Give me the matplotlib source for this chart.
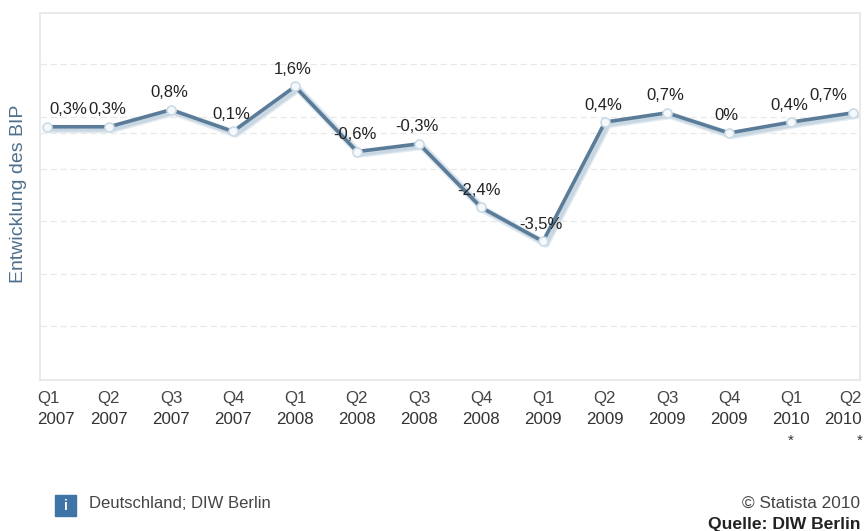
import matplotlib
matplotlib.use('Agg')
import matplotlib.pyplot as plt
from matplotlib.patches import Rectangle

W, H = 864, 531

quarters = ['Q1', 'Q2', 'Q3', 'Q4', 'Q1', 'Q2', 'Q3', 'Q4', 'Q1', 'Q2', 'Q3', 'Q4', 'Q1', 'Q2']
years = ['2007', '2007', '2007', '2007', '2008', '2008', '2008', '2008', '2009', '2009', '2009', '2009', '2010*', '2010*']
values = [0.2, 0.2, 0.75, 0.05, 1.5, -0.6, -0.35, -2.4, -3.5, 0.35, 0.65, 0, 0.35, 0.65]
labels = ['0,3%', '0,3%', '0,8%', '0,1%', '1,6%', '-0,6%', '-0,3%', '-2,4%', '-3,5%', '0,4%', '0,7%', '0%', '0,4%', '0,7%']
grid_values = [2.23, 0.52, 0, -1.16, -2.84, -4.55, -6.23]

plt.rcParams['font.family'] = ['Liberation Sans', 'DejaVu Sans']

fig = plt.figure(figsize=(W/100, H/100), dpi=100)
ax = fig.add_axes([40/W, 1 - 380/H, 820/W, 367/H])

x = list(range(len(values)))
ax.set_xlim(-7/62, 13 + 7/62)
ax.set_ylim(-7.97, 3.87)

# light dashed grid, no tick labels on the y axis
ax.set_yticks(grid_values)
ax.set_yticklabels([])
ax.grid(axis='y', color='#e8e8e8', linestyle=(0, (5, 3)), linewidth=0.9)
ax.set_axisbelow(True)
ax.tick_params(length=0)
for s in ax.spines.values():
    s.set_color('#e6e6e6')
    s.set_linewidth(1.2)

# soft shadow under the line
sx = [i + 3/62 for i in x]
sy = [v - 0.08 for v in values]
ax.plot(sx, sy, color='#e3ebf2', lw=5.5, solid_joinstyle='round', zorder=2)
ax.plot(sx, sy, color='#c9d7e3', lw=3.5, solid_joinstyle='round', zorder=2)
ax.plot(x, values, color='#5b7c99', lw=2.6, solid_joinstyle='round', zorder=3,
        marker='o', ms=6.5, mfc='#f6f9fb', mec='#cbdbe6', mew=1.2)

for i, (v, t) in enumerate(zip(values, labels)):
    ha = 'center'
    dx = -1.5
    if i == 0:
        ha, dx = 'left', 2
    if i == len(values) - 1:
        ha, dx = 'right', -4
    ax.annotate(t, (i, v), xytext=(dx, 9), textcoords='offset points', ha=ha, va='baseline',
                fontsize=12, color='#222222', zorder=4, annotation_clip=False)

# x labels, first and last are pulled inside the figure
ax.set_xticks([])
for i, (q, y) in enumerate(zip(quarters, years)):
    px = 47 + (853 - 47) * i / 13
    ha = 'center'
    if i == 0:
        px, ha = 37, 'left'
    if i == len(values) - 1:
        px, ha = 862, 'right'
    fig.text(px/W, 1 - 399/H, q, ha=ha, va='center', fontsize=12.2, color='#444444')
    fig.text(px/W, 1 - 420/H, y.rstrip('*'), ha=ha, va='center', fontsize=12.2, color='#333333')
    if y.endswith('*'):
        star_x = px if ha == 'center' else 860
        fig.text(star_x/W, 1 - 441/H, '*', ha='center', va='center', fontsize=11, color='#333333')

fig.text(18.5/W, 1 - 194/H, 'Entwicklung des BIP', rotation=90, ha='center', va='center',
         fontsize=14, color='#4f6f8c')

# info icon and footer
fig.add_artist(Rectangle((55/W, 1 - 516/H), 21/W, 21/H, transform=fig.transFigure, color='#3f74a6'))
fig.text(65.5/W, 1 - 506/H, 'i', ha='center', va='center', fontsize=10, color='white', fontweight='bold')
fig.text(89/W, 1 - 503/H, 'Deutschland; DIW Berlin', ha='left', va='center', fontsize=12, color='#444444')
fig.text(860/W, 1 - 503/H, '© Statista 2010', ha='right', va='center', fontsize=12.4, color='#444444')
fig.text(860/W, 1 - 524/H, 'Quelle: DIW Berlin', ha='right', va='center', fontsize=12.6, color='#222222', fontweight='bold')

fig.savefig('out.png', dpi=100)
